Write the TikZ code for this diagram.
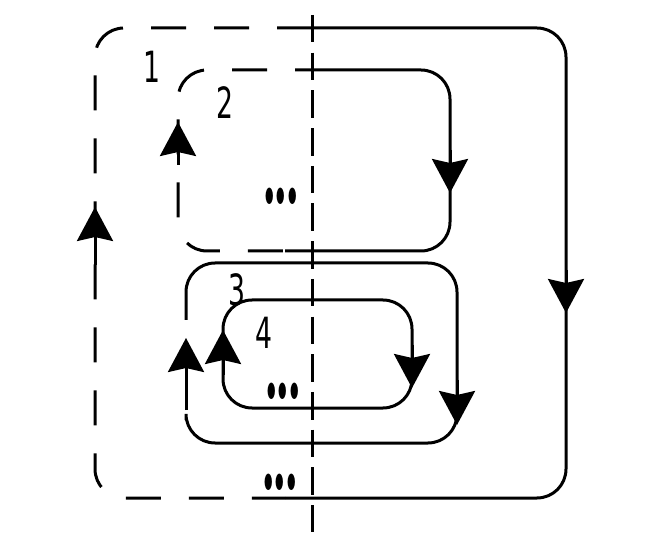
\documentclass[tikz,border=0pt]{standalone}
\usepackage{fontspec}
\newfontfamily\numfont[FakeStretch=0.62]{DejaVu Sans}
\newfontfamily\dotfont[FakeStretch=0.45]{Latin Modern Roman}
\usetikzlibrary{arrows.meta}
\tikzset{
	loop line/.style={
		line width=3pt,
		rounded corners=29pt
	},
	loop dashed/.style={
		loop line,
		dash pattern=on 35pt off 28pt,
		dash phase=35pt
	},
	axis line/.style={
		line width=3pt,
		dash pattern=on 27.5pt off 10.2pt
	},
	flow arrow/.style={
		line width=3pt,
		-{Stealth[width=36pt, length=34pt, inset=4pt]}
	},
	loop label/.style={
		font=\numfont\fontsize{43}{43}\selectfont,
		inner sep=0pt
	},
	more dots/.style={
		font=\dotfont\fontsize{200}{200}\selectfont,
		inner sep=0pt
	}
}
\newcommand\tightdots{.\kern-11pt.\kern-11pt.}

\begin{document}
\begin{tikzpicture}[x=1pt, y=-1pt]
		\useasboundingbox (0,0) rectangle (646,540);
		
		% --- 1. The vertical axis ---
		\coordinate (AxisTop) at (312,15);
		\coordinate (AxisBottom) at (312,532);
		\draw[axis line] (AxisTop) -- (AxisBottom);
		
		% --- 2. Loop 1 (left half dashed) ---
		\draw[loop dashed] (277,28) -- (95,28) -- (95,498) -- (285,498);
		\draw[loop line] (277,28) -- (566,28) -- (566,498) -- (285,498);
		\draw[flow arrow] (95,265) -- (95,207);
		\draw[flow arrow] (566,270) -- (566,313);
		
		% --- 3. Loop 2 (left half dashed) ---
		\draw[loop dashed] (295,70) -- (178,70) -- (178,251) -- (285,251);
		\draw[loop line] (295,70) -- (450,70) -- (450,251) -- (285,251);
		\draw[flow arrow] (178,165) -- (178,122);
		\draw[flow arrow] (450,150) -- (450,193);
		
		% --- 4. Loop 3 ---
		\draw[loop line] (186,320) -- (186,263) -- (457,263) -- (457,443) -- (186,443) -- (186,420);
		\draw[flow arrow] (186,410) -- (186,338);
		\draw[flow arrow] (457,380) -- (457,425);
		
		% --- 5. Loop 4 ---
		\draw[loop line] (223,300) rectangle (412,408);
		\draw[flow arrow] (223,375) -- (223,330);
		\draw[flow arrow] (412,345) -- (412,388);
		
		% --- 6. Labels ---
		\node[loop label] (Label1) at (152,67) {1};
		\node[loop label] (Label2) at (225,103) {2};
		\node[loop label] (Label3) at (237,290) {3};
		\node[loop label] (Label4) at (264,333) {4};
		
		\node[more dots] (DotsTwo) at (281,196) {\tightdots};
		\node[more dots] (DotsFour) at (283,391) {\tightdots};
		\node[more dots] (DotsOne) at (280,482) {\tightdots};
		
	\end{tikzpicture}
\end{document}
